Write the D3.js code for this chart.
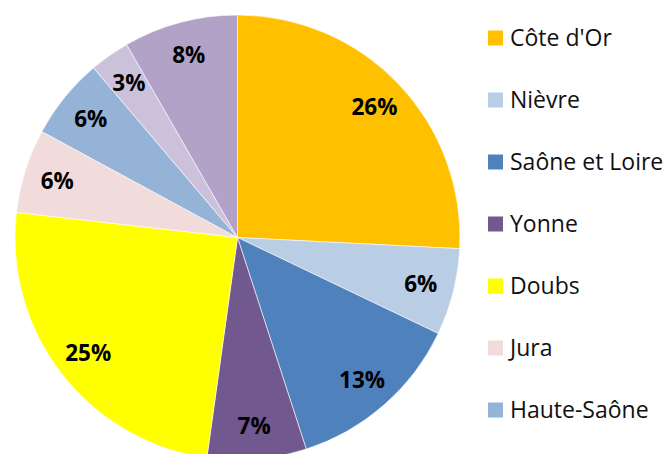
<!DOCTYPE html>
<html lang="en">
<head>
<meta charset="utf-8"/>
<title>Départements pie</title>
<script src="https://d3js.org/d3.v7.min.js"></script>
<style>
  body { margin: 0; background: #fff; overflow: hidden; }
  text { font-family: "Open Sans", sans-serif; }
</style>
</head>
<body>
<script>
// data (share of total, %)
var departements = ["Côte d'Or", "Nièvre", "Saône et Loire", "Yonne", "Doubs", "Jura", "Haute-Saône", "Territoire de Belfort", "Autres"];
var parts = [25.8, 6.3, 12.9, 7.2, 24.6, 6.1, 5.9, 2.9, 8.3];
var couleurs = ["#FFC000", "#B9CDE5", "#4F81BD", "#71588F", "#FFFF00", "#F2DCDB", "#95B3D7", "#CCC1DA", "#B3A2C7"];

var w = 666;
var h = 454;
var cx = 237.5, cy = 237.5;
var outerRadius = 222.5;
var labelRadius = 189;
var rowStep = 62;

var svg = d3.select("body")
            .append("svg")
            .attr("width", w)
            .attr("height", h);

var colour = d3.scaleOrdinal().domain(departements).range(couleurs);

var pie = d3.pie().sort(null).value(function(d) { return d.v; });
var arc = d3.arc().innerRadius(0).outerRadius(outerRadius);
var labelArc = d3.arc().innerRadius(labelRadius).outerRadius(labelRadius);

var donnees = departements.map(function(n, i) { return {nom: n, v: parts[i]}; });

var arcs = svg.selectAll("g.arc")
              .data(pie(donnees))
              .enter()
              .append("g")
              .attr("class", "arc")
              .attr("transform", "translate(" + cx + "," + cy + ")");

arcs.append("path")
    .attr("fill", function(d) { return colour(d.data.nom); })
    .attr("stroke", "#fff")
    .attr("stroke-width", 0.6)
    .attr("d", arc);

arcs.append("text")
    .attr("transform", function(d) { return "translate(" + labelArc.centroid(d) + ")"; })
    .attr("text-anchor", "middle")
    .attr("dy", "0.36em")
    .style("font-weight", "bold")
    .style("font-size", "22.5px")
    .text(function(d) { return Math.round(d.data.v) + "%"; });

// legend - rows that fall below the frame are not visible in the original
var visibles = departements.filter(function(d, i) { return 38 + i * rowStep < h; });

var legend = svg.selectAll("g.legend")
                .data(visibles)
                .enter()
                .append("g")
                .attr("class", "legend")
                .attr("transform", function(d, i) { return "translate(488," + (38 + i * rowStep) + ")"; });

legend.append("rect")
      .attr("x", 0)
      .attr("y", -7.5)
      .attr("width", 15)
      .attr("height", 15)
      .attr("fill", function(d) { return colour(d); });

legend.append("text")
      .attr("x", 22)
      .attr("dy", "0.36em")
      .style("font-size", "23px")
      .attr("fill", "#111")
      .text(function(d) { return d; });
</script>
</body>
</html>
